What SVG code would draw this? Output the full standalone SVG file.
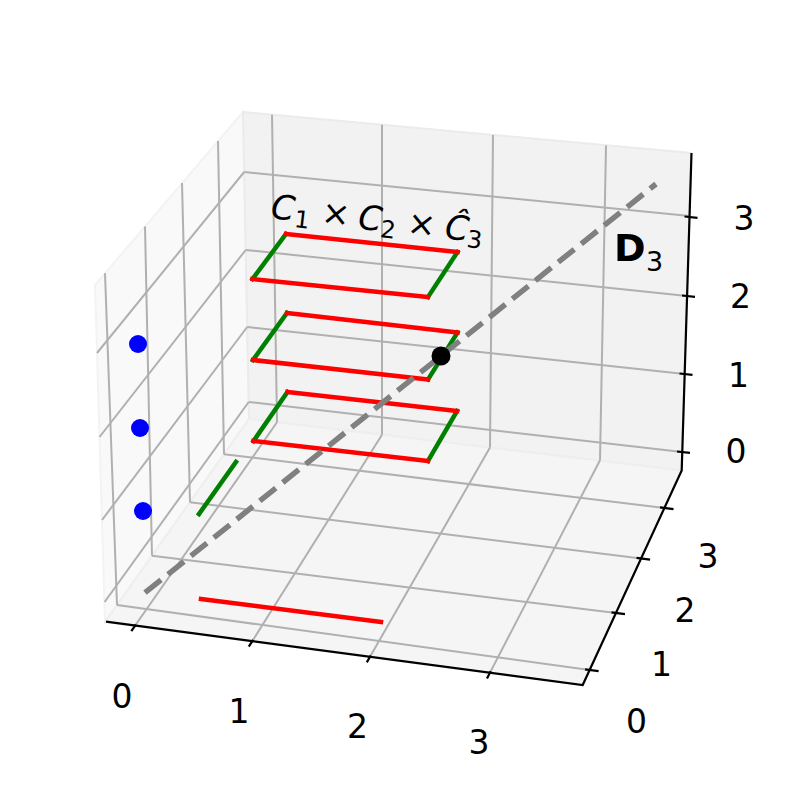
<svg xmlns="http://www.w3.org/2000/svg" width="790" height="790" viewBox="0 0 790 790">
<style>
.grid{stroke:#b0b0b0;stroke-width:2;fill:none}
.axis{stroke:#000;stroke-width:2.2;fill:none}
.tick{stroke:#000;stroke-width:2.2}
.red{stroke:#ff0000;stroke-width:4.5;stroke-linecap:square;fill:none}
.green{stroke:#008000;stroke-width:4.5;stroke-linecap:square;fill:none}
.tl{font-family:'DejaVu Sans','Liberation Sans',sans-serif;font-size:33px;text-anchor:middle;fill:#000}
.m{font-family:'DejaVu Sans','Liberation Sans',sans-serif;fill:#000}
</style>
<rect width="790" height="790" fill="#ffffff"/>
<g id="panes">
<polygon points="95,285 243,112 249,419 105,622" fill="#f9f9f9" stroke="#f3f3f3" stroke-width="2"/>
<polygon points="243,112 691,153 681.7,470.5 249,419" fill="#f2f2f2" stroke="#ebebeb" stroke-width="2"/>
<polygon points="105,622 249,419 681.7,470.5 582.7,685" fill="#f5f5f5" stroke="#eeeeee" stroke-width="2"/>
</g>
<g id="grid">
<line class="grid" x1="105" y1="273.3" x2="117" y2="605"/>
<line class="grid" x1="145" y1="226.6" x2="152" y2="555.7"/>
<line class="grid" x1="182" y1="183" x2="190" y2="502.2"/>
<line class="grid" x1="218" y1="141" x2="224" y2="454.2"/>
<line class="grid" x1="97" y1="353" x2="244.2" y2="172"/>
<line class="grid" x1="99.5" y1="437" x2="245.7" y2="250"/>
<line class="grid" x1="102" y1="520" x2="247.2" y2="327"/>
<line class="grid" x1="104.6" y1="602" x2="248.7" y2="402"/>
<line class="grid" x1="272" y1="114.7" x2="277" y2="422.3"/>
<line class="grid" x1="382" y1="124.8" x2="382" y2="434.7"/>
<line class="grid" x1="493" y1="135" x2="490" y2="447.4"/>
<line class="grid" x1="606" y1="145.4" x2="600" y2="460.3"/>
<line class="grid" x1="244.2" y1="172" x2="689.5" y2="216"/>
<line class="grid" x1="245.7" y1="250" x2="687" y2="296"/>
<line class="grid" x1="247.2" y1="327" x2="684.5" y2="374"/>
<line class="grid" x1="248.7" y1="402" x2="682" y2="452"/>
<line class="grid" x1="117" y1="605" x2="589.6" y2="670"/>
<line class="grid" x1="152" y1="555.7" x2="616" y2="613"/>
<line class="grid" x1="190" y1="502.2" x2="641.1" y2="558.5"/>
<line class="grid" x1="224" y1="454.2" x2="664.5" y2="508"/>
<line class="grid" x1="135" y1="625.8" x2="277" y2="422.3"/>
<line class="grid" x1="252.3" y1="641.2" x2="382" y2="434.7"/>
<line class="grid" x1="370" y1="656.8" x2="490" y2="447.4"/>
<line class="grid" x1="490" y1="672.6" x2="600" y2="460.3"/>
</g>
<g id="axes">
<polyline class="axis" points="106,621.7 582.7,685 681.7,470.5 691.5,153"/>
<line class="tick" x1="135.9" y1="624.6" x2="131.3" y2="631.1"/>
<line class="tick" x1="253.1" y1="639.9" x2="248.8" y2="646.7"/>
<line class="tick" x1="370.7" y1="655.5" x2="366.8" y2="662.4"/>
<line class="tick" x1="490.7" y1="671.3" x2="487" y2="678.4"/>
<line class="tick" x1="585.1" y1="669.4" x2="598.6" y2="671.1"/>
<line class="tick" x1="611.5" y1="612.4" x2="625" y2="614.1"/>
<line class="tick" x1="636.6" y1="557.9" x2="650.1" y2="559.6"/>
<line class="tick" x1="660" y1="507.4" x2="673.5" y2="509.1"/>
<line class="tick" x1="677" y1="451.5" x2="690" y2="452.8"/>
<line class="tick" x1="679.5" y1="373.5" x2="692.5" y2="374.8"/>
<line class="tick" x1="682" y1="295.5" x2="695" y2="296.8"/>
<line class="tick" x1="684.5" y1="216.5" x2="697.5" y2="217.8"/>
</g>
<g id="tick-labels">
<text class="tl" x="122" y="707.5">0</text>
<text class="tl" x="239" y="723">1</text>
<text class="tl" x="357.5" y="738">2</text>
<text class="tl" x="479" y="754">3</text>
<text class="tl" x="636.5" y="733">0</text>
<text class="tl" x="661.5" y="676">1</text>
<text class="tl" x="685" y="621.5">2</text>
<text class="tl" x="708" y="568">3</text>
<text class="tl" x="736" y="463">0</text>
<text class="tl" x="738.5" y="386.5">1</text>
<text class="tl" x="740.5" y="308">2</text>
<text class="tl" x="744" y="230">3</text>
</g>
<g id="square-top">
<line class="green" x1="286" y1="234" x2="252.5" y2="279"/>
<line class="green" x1="457.5" y1="252" x2="428" y2="297"/>
<line class="red" x1="286" y1="234" x2="457.5" y2="252"/>
<line class="red" x1="252.5" y1="279" x2="428" y2="297"/>
</g>
<g id="square-mid">
<line class="green" x1="287" y1="313" x2="253" y2="360"/>
<line class="green" x1="457.5" y1="332.5" x2="428" y2="379.5"/>
<line class="red" x1="287" y1="313" x2="457.5" y2="332.5"/>
<line class="red" x1="253" y1="360" x2="428" y2="379.5"/>
</g>
<g id="square-bot">
<line class="green" x1="287.5" y1="392" x2="253.5" y2="441"/>
<line class="green" x1="457" y1="411" x2="428" y2="461"/>
<line class="red" x1="287.5" y1="392" x2="457" y2="411"/>
<line class="red" x1="253.5" y1="441" x2="428" y2="461"/>
</g>
<g id="shadows">
<line class="green" x1="236" y1="462" x2="199" y2="514"/>
<line class="red" x1="201" y1="599" x2="381" y2="622"/>
</g>
<g id="connectors">
<line x1="145" y1="592.7" x2="656" y2="184" stroke="#808080" stroke-width="5.5" stroke-dasharray="20.5 8.9" fill="none"/>
</g>
<g id="point-black">
<circle cx="441" cy="356" r="9.5" fill="#000"/>
</g>
<g id="points-blue">
<circle cx="138" cy="344" r="9" fill="#0000ff"/>
<circle cx="140" cy="428" r="9" fill="#0000ff"/>
<circle cx="143" cy="511" r="9" fill="#0000ff"/>
</g>
<g id="label-C" transform="translate(270,217.5) rotate(6.6)">
<text class="m" font-size="34" font-style="italic" x="0" y="0.5">C</text>
<text class="m" font-size="24" x="24.4" y="6.8">1</text>
<text class="m" font-size="34" text-anchor="middle" x="65" y="0">×</text>
<text class="m" font-size="34" font-style="italic" x="87.9" y="1">C</text>
<text class="m" font-size="24" x="111" y="6.8">2</text>
<text class="m" font-size="34" text-anchor="middle" x="151.4" y="0.5">×</text>
<text class="m" font-size="34" font-style="italic" x="175.2" y="0.7">Ĉ</text>
<text class="m" font-size="24" x="198" y="6.8">3</text>
</g>
<g id="label-D3">
<text class="m" font-size="38" font-weight="bold" x="614" y="261">D</text>
<text class="m" font-size="27" x="646" y="271">3</text>
</g>
</svg>
